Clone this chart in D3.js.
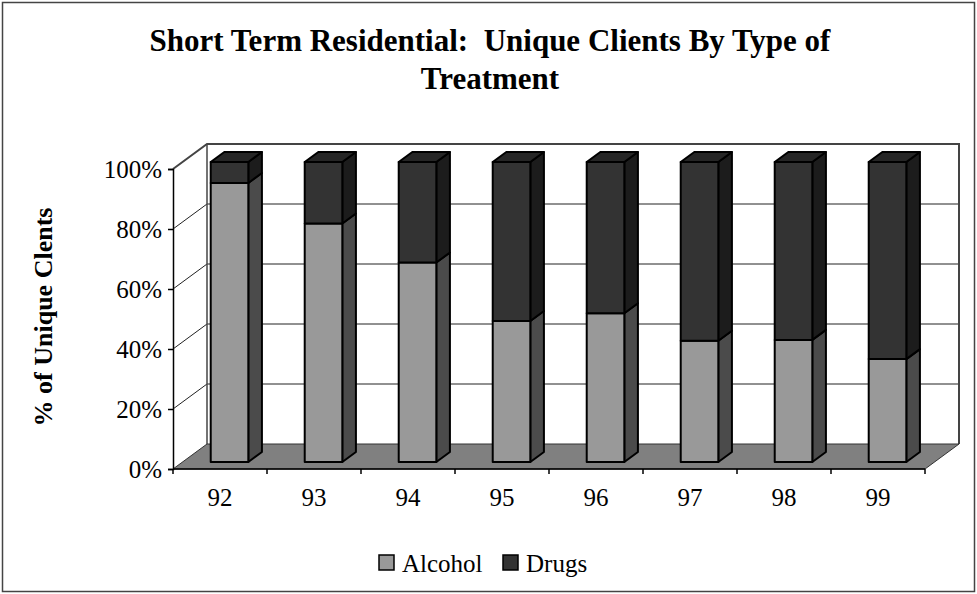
<!DOCTYPE html>
<html>
<head>
<meta charset="utf-8">
<script src="https://cdn.jsdelivr.net/npm/d3@7"></script>
<style>
  html, body { margin: 0; padding: 0; background: #fff; }
  svg { display: block; font-family: "Liberation Serif", "Times New Roman", serif; }
</style>
</head>
<body>
<svg id="chart" width="977" height="594"></svg>
<script>
// ---- data ----
const categories = ["92", "93", "94", "95", "96", "97", "98", "99"];
const alcohol = [93, 79.5, 66.5, 47, 49.6, 40.4, 40.7, 34.3];
const drugs   = [7, 20.5, 33.5, 53, 50.4, 59.6, 59.3, 65.7];
const seriesNames = ["Alcohol", "Drugs"];
const yTicks = [0, 20, 40, 60, 80, 100];
const titleLines = ["Short Term Residential:  Unique Clients By Type of", "Treatment"];
const yTitle = "% of Unique Clents";

(function () {
// ---- layout ----
const svg = d3.select("#chart");
const W = 977, H = 594;
const pL = 173, pR = 925, pT = 169, pB = 469;
const DX = 34, DY = -25;       // full depth offset
const z0 = 0.28, z1 = 0.68;    // bar depth range

const x = d3.scaleBand().domain(categories).range([pL, pR]).paddingInner(0).paddingOuter(0);
const y = d3.scaleLinear().domain([0, 100]).range([pB, pT]);
const P = (px, py, z) => [px + DX * z, py + DY * z];
const poly = pts => pts.map(p => p.join(",")).join(" ");

const colors = {
  Alcohol: { front: "#999999", side: "#4b4b4b", top: "#7a7a7a" },
  Drugs:   { front: "#333333", side: "#1c1c1c", top: "#262626" }
};

// outer border
svg.append("rect").attr("x", 2.5).attr("y", 2.5).attr("width", W - 5).attr("height", H - 5)
  .attr("fill", "#fff").attr("stroke", "#444").attr("stroke-width", 1.5);

// title
svg.append("g").selectAll("text").data(titleLines).join("text")
  .attr("x", 490).attr("y", (d, i) => 51 + i * 38)
  .attr("text-anchor", "middle").attr("font-size", 31).attr("font-weight", "bold")
  .attr("fill", "#000").style("white-space", "pre")
  .text(d => d);

// back wall
svg.append("polygon")
  .attr("points", poly([P(pL, pT, 1), P(pR, pT, 1), P(pR, pB, 1), P(pL, pB, 1)]))
  .attr("fill", "#fff").attr("stroke", "none");
// side wall
svg.append("polygon")
  .attr("points", poly([[pL, pT], P(pL, pT, 1), P(pL, pB, 1), [pL, pB]]))
  .attr("fill", "#fff").attr("stroke", "none");

// gridlines
const grid = svg.append("g");
yTicks.filter(t => t > 0 && t < 100).forEach(t => {
  const a = P(pL, y(t), 1), b = P(pR, y(t), 1);
  grid.append("line").attr("x1", a[0]).attr("y1", a[1]).attr("x2", b[0]).attr("y2", b[1])
    .attr("stroke", "#222").attr("stroke-width", 1);
  grid.append("line").attr("x1", pL).attr("y1", y(t)).attr("x2", a[0]).attr("y2", a[1])
    .attr("stroke", "#222").attr("stroke-width", 1);
});
// wall edges
const bt = P(pL, pT, 1), bb = P(pL, pB, 1), rt = P(pR, pT, 1), rb = P(pR, pB, 1);
svg.append("polyline").attr("points", poly([[pL, pT], bt, rt, rb]))
  .attr("fill", "none").attr("stroke", "#444").attr("stroke-width", 2);
svg.append("line").attr("x1", bt[0]).attr("y1", bt[1]).attr("x2", bb[0]).attr("y2", bb[1])
  .attr("stroke", "#444").attr("stroke-width", 1.5);

// floor
svg.append("polygon")
  .attr("points", poly([[pL, pB], [pR, pB], rb, bb]))
  .attr("fill", "#808080").attr("stroke", "#333").attr("stroke-width", 1);

// bars
const barW = x.bandwidth() * 0.4;
const barsG = svg.append("g");
categories.forEach((c, i) => {
  const total = alcohol[i] + drugs[i];
  const segs = [
    { name: "Alcohol", v0: 0, v1: alcohol[i] / total * 100 },
    { name: "Drugs", v0: alcohol[i] / total * 100, v1: 100 }
  ];
  const xl = x(c) + (x.bandwidth() - barW) / 2, xr = xl + barW;
  segs.forEach((s, si) => {
    const col = colors[s.name];
    const yb = y(s.v0), yt = y(s.v1);
    const f = [P(xl, yt, z0), P(xr, yt, z0), P(xr, yb, z0), P(xl, yb, z0)];
    const sd = [P(xr, yt, z0), P(xr, yt, z1), P(xr, yb, z1), P(xr, yb, z0)];
    barsG.append("polygon").attr("points", poly(sd)).attr("fill", col.side)
      .attr("stroke", "#000").attr("stroke-width", 2).attr("stroke-linejoin", "round");
    barsG.append("polygon").attr("points", poly(f)).attr("fill", col.front)
      .attr("stroke", "#000").attr("stroke-width", 2).attr("stroke-linejoin", "round");
    if (si === segs.length - 1) {
      const tp = [P(xl, yt, z0), P(xl, yt, z1), P(xr, yt, z1), P(xr, yt, z0)];
      barsG.append("polygon").attr("points", poly(tp)).attr("fill", col.top)
        .attr("stroke", "#000").attr("stroke-width", 2).attr("stroke-linejoin", "round");
    }
  });
});

// y axis
const yAxis = svg.append("g").attr("transform", `translate(${pL},0)`)
  .call(d3.axisLeft(y).tickValues(yTicks).tickFormat(d => d + "%").tickSize(5).tickPadding(6));
yAxis.select(".domain").attr("stroke", "#000").attr("stroke-width", 1.5);
yAxis.selectAll(".tick line").attr("stroke", "#000").attr("stroke-width", 1.5);
yAxis.selectAll("text").attr("font-size", 25).attr("font-family", "Liberation Serif").attr("fill", "#000");

// x axis
const xAxisG = svg.append("g");
xAxisG.append("line").attr("x1", pL).attr("x2", pR).attr("y1", pB).attr("y2", pB)
  .attr("stroke", "#000").attr("stroke-width", 1.5);
const tickXs = categories.map(c => x(c)).concat([x(categories[categories.length - 1]) + x.bandwidth()]);
xAxisG.selectAll("line.t").data(tickXs).join("line").attr("class", "t")
  .attr("x1", d => d).attr("x2", d => d).attr("y1", pB).attr("y2", pB + 5)
  .attr("stroke", "#000").attr("stroke-width", 1.5);
xAxisG.selectAll("text").data(categories).join("text")
  .attr("x", d => x(d) + x.bandwidth() / 2).attr("y", 506)
  .attr("text-anchor", "middle").attr("font-size", 25).attr("fill", "#000").text(d => d);

// y title
svg.append("text").attr("transform", "translate(52,317) rotate(-90)")
  .attr("text-anchor", "middle").attr("font-size", 26).attr("font-weight", "bold")
  .attr("fill", "#000").text(yTitle);

// legend
const legend = svg.append("g");
const legX = [379, 503];
seriesNames.forEach((n, i) => {
  legend.append("rect").attr("x", legX[i]).attr("y", 555).attr("width", 15).attr("height", 15)
    .attr("fill", colors[n].front).attr("stroke", "#000").attr("stroke-width", 1.5);
  legend.append("text").attr("x", legX[i] + 23).attr("y", 572).attr("font-size", 25)
    .attr("fill", "#000").text(n);
});
})();
</script>
</body>
</html>
